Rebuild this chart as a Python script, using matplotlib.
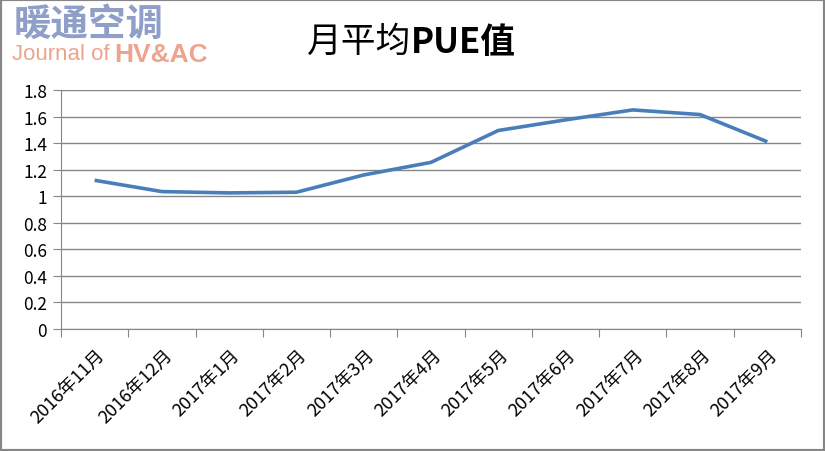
import matplotlib
matplotlib.use('Agg')
import matplotlib.pyplot as plt
from matplotlib.patches import Rectangle
from matplotlib.transforms import ScaledTranslation

plt.rcParams['font.family'] = ['Noto Sans CJK SC', 'DejaVu Sans']

months = ['2016年11月', '2016年12月', '2017年1月', '2017年2月', '2017年3月', '2017年4月',
          '2017年5月', '2017年6月', '2017年7月', '2017年8月', '2017年9月']
pue = [1.12, 1.035, 1.025, 1.03, 1.16, 1.255, 1.495, 1.575, 1.65, 1.615, 1.41]
yticks = [0, 0.2, 0.4, 0.6, 0.8, 1, 1.2, 1.4, 1.6, 1.8]
ylabels = ['0', '0.2', '0.4', '0.6', '0.8', '1', '1.2', '1.4', '1.6', '1.8']

W, H = 825, 452
fig = plt.figure(figsize=(W / 100, H / 100), dpi=100)
ax = fig.add_axes([61 / W, 1 - 330 / H, 740 / W, 239 / H])

x = list(range(len(months)))
ax.plot(x, pue, color='#4a7ebb', lw=2.6, solid_joinstyle='round', solid_capstyle='butt')

ax.set_xlim(-0.5, len(months) - 0.5)
ax.set_ylim(0, 1.8)
ax.set_yticks(yticks)
ax.set_yticklabels(ylabels, fontsize=12.5)
ax.yaxis.grid(True, color='#868686', lw=1)
ax.set_axisbelow(True)

ax.set_xticks([i - 0.5 for i in range(len(months) + 1)], minor=False)
ax.set_xticklabels([])
ax.set_xticks(x, minor=True)
ax.set_xticklabels(months, minor=True, rotation=45, ha='right', va='top',
                   rotation_mode='anchor', fontsize=13)
ax.tick_params(axis='x', which='major', direction='out', length=6, color='#868686')
ax.tick_params(axis='x', which='minor', length=0, pad=12)
ax.tick_params(axis='y', direction='out', length=6, color='#868686', pad=4)
shift = ScaledTranslation(1 / 72, 0, fig.dpi_scale_trans)
for lbl in ax.get_xticklabels(minor=True):
    lbl.set_transform(lbl.get_transform() + shift)

for s in ['top', 'right']:
    ax.spines[s].set_visible(False)
for s in ['left', 'bottom']:
    ax.spines[s].set_color('#868686')

tx = 0.498
fig.text(tx, 1 - 42 / H, '月平均', fontsize=25, ha='right', va='center')
fig.text(tx, 1 - 42 / H, 'PUE值', fontsize=25, ha='left', va='center', fontweight='bold')

# logo
fig.text(14 / W, 1 - 24 / H, '暖通空调', fontsize=27, color='#8f9fc8', fontweight='heavy',
         ha='left', va='center')
fig.text(12 / W, 1 - 55 / H, 'Journal of', fontsize=16, color='#eea48c',
         ha='left', va='center', family='Liberation Sans')
fig.text(114 / W, 1 - 55 / H, 'HV&AC', fontsize=19, color='#eea48c', fontweight='bold',
         ha='left', va='center', family='Liberation Sans')

fig.patches.append(Rectangle((0, 0), 1, 1, transform=fig.transFigure, fill=False,
                             edgecolor='#868686', lw=3))

fig.savefig('out.png', dpi=100)
